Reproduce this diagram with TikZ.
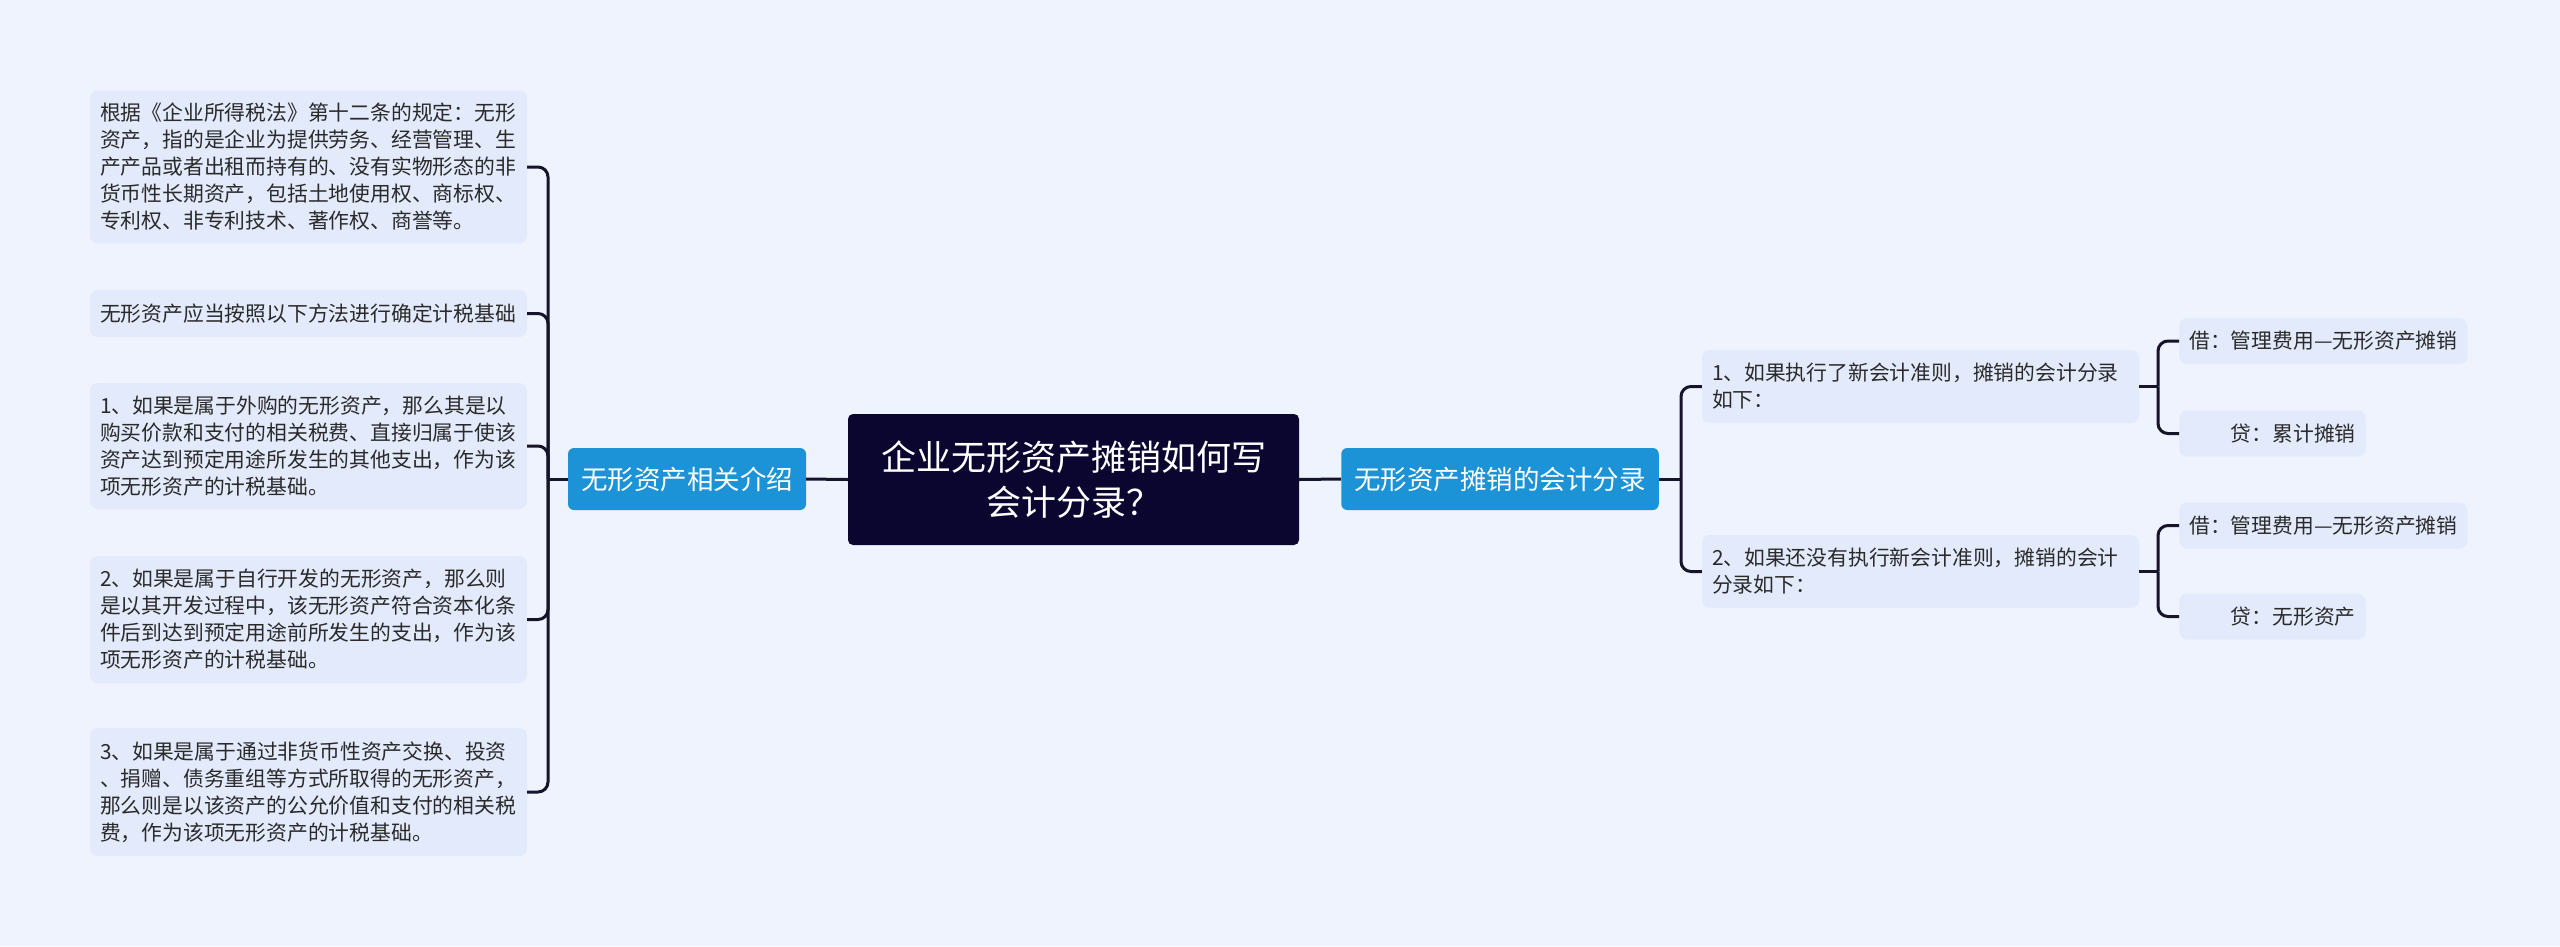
\documentclass[tikz,border=0pt]{standalone}
\usepackage{fontspec}
\setmainfont{Noto Sans CJK SC}
\usepackage{xcolor}
\usetikzlibrary{positioning,calc}

\definecolor{bgcol}{HTML}{EEF3FE}
\definecolor{boxcol}{HTML}{E2EAFB}
\definecolor{brancol}{HTML}{1C93D6}
\definecolor{rootcol}{HTML}{0B0630}
\definecolor{linecol}{HTML}{15142B}
\definecolor{txtcol}{HTML}{2A2A2A}

\tikzset{
    topic/.style={fill=rootcol, text=white, rounded corners=5pt, align=center,
        minimum width=451pt, minimum height=131pt, font=\fontsize{35}{45}\selectfont},
    branch/.style={fill=brancol, text=white, rounded corners=6pt, inner xsep=13pt,
        minimum height=62pt, font=\fontsize{26.5}{32}\selectfont},
    notebox/.style={fill=boxcol, text=txtcol, rounded corners=8pt, align=left,
        text width=417pt, inner xsep=10pt, inner ysep=0pt, font=\fontsize{20.8}{27}\selectfont},
    tipbox/.style={fill=boxcol, text=txtcol, rounded corners=8pt, anchor=west,
        inner xsep=10pt, minimum height=46pt, font=\fontsize{20.8}{27}\selectfont},
    link/.style={draw=linecol, line width=3pt, rounded corners=10pt},
}

\begin{document}
\begin{tikzpicture}[x=1pt, y=-1pt]
    \fill[bgcol] (0,0) rectangle (2560,946);
    \useasboundingbox (0,0) rectangle (2560,946);

    % centre and the two branches
    \node[topic] (root) at (1073.5,479.5) {企业无形资产摊销如何写\\会计分录？};
    \node[branch] (intro) at (687,479) {无形资产相关介绍};
    \node[branch] (acct) at (1500,479) {无形资产摊销的会计分录};

    % left side: notes on intangible assets
    \node[notebox, minimum height=153pt] (n1) at (308.5,167) {根据《企业所得税法》第十二条的规定：无形\\资产，指的是企业为提供劳务、经营管理、生\\产产品或者出租而持有的、没有实物形态的非\\货币性长期资产，包括土地使用权、商标权、\\专利权、非专利技术、著作权、商誉等。};
    \node[notebox, minimum height=47pt] (n2) at (308.5,313.5) {无形资产应当按照以下方法进行确定计税基础};
    \node[notebox, minimum height=126pt] (n3) at (308.5,446) {1、如果是属于外购的无形资产，那么其是以\\购买价款和支付的相关税费、直接归属于使该\\资产达到预定用途所发生的其他支出，作为该\\项无形资产的计税基础。};
    \node[notebox, minimum height=127pt] (n4) at (308.5,619.5) {2、如果是属于自行开发的无形资产，那么则\\是以其开发过程中，该无形资产符合资本化条\\件后到达到预定用途前所发生的支出，作为该\\项无形资产的计税基础。};
    \node[notebox, minimum height=128pt] (n5) at (308.5,792) {3、如果是属于通过非货币性资产交换、投资\\、捐赠、债务重组等方式所取得的无形资产，\\那么则是以该资产的公允价值和支付的相关税\\费，作为该项无形资产的计税基础。};

    % right side: the two cases and their entries
    \node[notebox, minimum height=73pt] (c1) at (1920.5,386.5) {1、如果执行了新会计准则，摊销的会计分录\\如下：};
    \node[notebox, minimum height=73pt] (c2) at (1920.5,571.5) {2、如果还没有执行新会计准则，摊销的会计\\分录如下：};
    \node[tipbox] (d1) at (2179,341) {借：管理费用—无形资产摊销};
    \node[tipbox] (k1) at (2179,433.5) {\hspace*{2em}贷：累计摊销};
    \node[tipbox] (d2) at (2179,525.5) {借：管理费用—无形资产摊销};
    \node[tipbox] (k2) at (2179,616.5) {\hspace*{2em}贷：无形资产};

    % connectors
    \coordinate (jl) at (548,479);
    \coordinate (jr) at (1681,479);
    \coordinate (jc1) at (2158,386.5);
    \coordinate (jc2) at (2158,571.5);
    \draw[link] (root.west) -- (intro.east);
    \draw[link] (root.east) -- (acct.west);
    \draw[link] (intro.west) -- (jl);
    \foreach \n in {n1,n2,n3,n4,n5}
        \draw[link] (jl) |- (\n.east);
    \draw[link] (acct.east) -- (jr);
    \foreach \n in {c1,c2}
        \draw[link] (jr) |- (\n.west);
    \draw[link] (c1.east) -- (jc1);
    \draw[link] (c2.east) -- (jc2);
    \foreach \n in {d1,k1}
        \draw[link] (jc1) |- (\n.west);
    \foreach \n in {d2,k2}
        \draw[link] (jc2) |- (\n.west);
\end{tikzpicture}
\end{document}
